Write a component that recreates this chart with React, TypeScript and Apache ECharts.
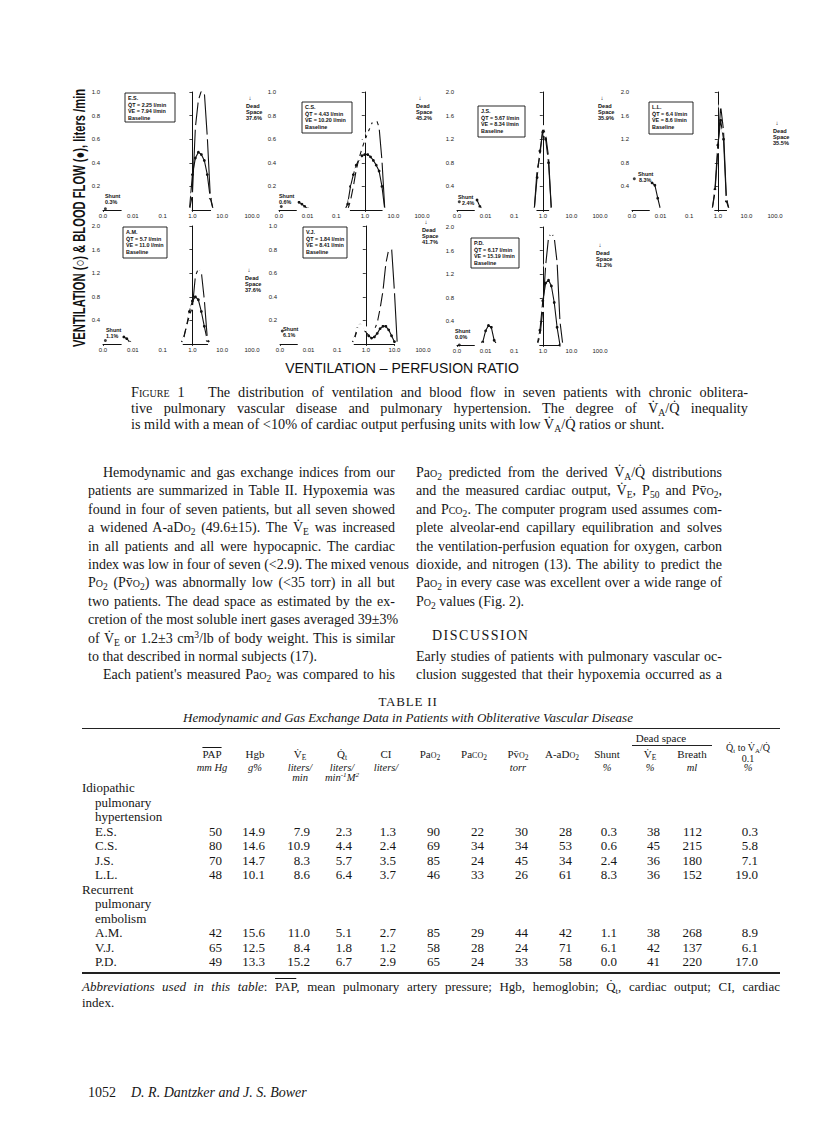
import React, { useEffect, useRef } from "react";
import * as echarts from "echarts";

// ---------------- data ----------------
// V/Q compartments, log10 scale
const VQ_LOG = [-2.3, -2.2, -2.1, -2.0, -1.9, -1.8, -1.7, -1.6, -1.5, -1.4, -1.3, -1.2, -1.1, -1.0, -0.9, -0.8, -0.7, -0.6, -0.5, -0.4, -0.3, -0.2, -0.1, 0.0, 0.1, 0.2, 0.3, 0.4, 0.5, 0.6, 0.7, 0.8, 0.9, 1.0, 1.1, 1.2, 1.3, 1.4, 1.5, 1.6, 1.7, 1.8, 1.9, 2.0];
const X_TICK_LABELS = ["0.0", "0.01", "0.1", "1.0", "10.0", "100.0"];

const PATIENTS = ["E.S.", "C.S.", "J.S.", "L.L.", "A.M.", "V.J.", "P.D."];
const QT = ["2.25", "4.43", "5.67", "6.4", "5.7", "1.84", "6.17"];
const VE = ["7.94", "10.20", "8.34", "8.6", "11.0", "8.41", "15.19"];
const DEAD_SPACE = ["37.6", "45.2", "35.9", "35.5", "37.6", "41.7", "41.2"];
const SHUNT_PCT = ["0.3", "0.6", "2.4", "8.3", "1.1", "6.1", "0.0"];
const SHUNT_FLOW = [0.01, 0.03, 0.14, 0.53, 0.06, 0.11, 0.0];
const Y_MAX = [1.0, 1.0, 2.0, 2.0, 2.0, 1.0, 2.0];
const Y_STEP = [0.2, 0.2, 0.4, 0.4, 0.4, 0.2, 0.4];

// non-zero parts of each distribution [log10 V/Q, liters/min]; every other compartment reads 0
const ES_VENT: [number, number][] = [[0.0, 0.13], [0.1, 0.7], [0.2, 0.93], [0.3, 1.01], [0.4, 1.0], [0.5, 0.62], [0.6, 0.12]];
const ES_BLOOD: [number, number][] = [[0.0, 0.3], [0.1, 0.44], [0.2, 0.49], [0.3, 0.47], [0.4, 0.42], [0.5, 0.3], [0.6, 0.1]];
const CS_VENT: [number, number][] = [[-0.5, 0.08], [-0.4, 0.2], [-0.3, 0.34], [-0.2, 0.44], [-0.1, 0.52], [0.0, 0.59], [0.1, 0.65], [0.2, 0.71], [0.3, 0.76], [0.4, 0.77], [0.5, 0.7], [0.6, 0.42]];
const CS_BLOOD: [number, number][] = [[-2.3, 0.065], [-2.2, 0.05], [-2.1, 0.03], [-2.0, 0.01], [-0.6, 0.05], [-0.5, 0.2], [-0.4, 0.3], [-0.3, 0.38], [-0.2, 0.43], [-0.1, 0.46], [0.0, 0.47], [0.1, 0.47], [0.2, 0.45], [0.3, 0.42], [0.4, 0.38], [0.5, 0.33], [0.6, 0.2]];
const JS_VENT: [number, number][] = [[-0.2, 0.68], [-0.1, 0.92], [0.0, 1.4], [0.1, 1.28], [0.2, 0.9]];
const JS_BLOOD: [number, number][] = [[-2.3, 0.17], [-2.2, 0.06], [-0.2, 0.55], [-0.1, 1.0], [0.0, 1.32], [0.1, 1.2], [0.2, 0.8]];
const LL_VENT: [number, number][] = [[-0.1, 0.3], [0.0, 1.0], [0.1, 1.76], [0.2, 1.35], [0.3, 0.2]];
const LL_BLOOD: [number, number][] = [[-2.3, 0.46], [-2.2, 0.42], [-2.1, 0.2], [-0.1, 0.35], [0.0, 1.1], [0.1, 1.52], [0.2, 1.2], [0.3, 0.15]];
const AM_VENT: [number, number][] = [[-0.3, 0.08], [-0.2, 0.3], [-0.1, 0.48], [0.0, 0.62], [0.1, 1.15], [0.2, 1.28], [0.3, 1.22], [0.4, 0.75], [0.5, 0.1]];
const AM_BLOOD: [number, number][] = [[-2.3, 0.12], [-2.2, 0.09], [-2.1, 0.03], [-0.3, 0.1], [-0.2, 0.3], [-0.1, 0.55], [0.0, 0.73], [0.1, 0.8], [0.2, 0.75], [0.3, 0.55], [0.4, 0.3], [0.5, 0.06]];
const VJ_VENT: [number, number][] = [[-0.4, 0.04], [-0.3, 0.12], [-0.2, 0.15], [-0.1, 0.15], [0.0, 0.13], [0.1, 0.11], [0.2, 0.1], [0.3, 0.12], [0.4, 0.18], [0.5, 0.3], [0.6, 0.45], [0.7, 0.68], [0.8, 0.8], [0.9, 0.82], [1.0, 0.45]];
const VJ_BLOOD: [number, number][] = [[-0.4, 0.05], [-0.3, 0.13], [-0.2, 0.16], [-0.1, 0.15], [0.0, 0.11], [0.1, 0.07], [0.2, 0.05], [0.3, 0.06], [0.4, 0.09], [0.5, 0.13], [0.6, 0.15], [0.7, 0.15], [0.8, 0.12], [0.9, 0.07], [1.0, 0.02]];
const PD_VENT: [number, number][] = [[-0.1, 0.15], [0.0, 0.6], [0.1, 1.35], [0.2, 1.82], [0.3, 1.9], [0.4, 1.82], [0.5, 1.4], [0.6, 0.4]];
const PD_BLOOD: [number, number][] = [[-2.1, 0.05], [-2.0, 0.24], [-1.9, 0.33], [-1.8, 0.3], [-1.7, 0.08], [-0.1, 0.25], [0.0, 0.75], [0.1, 1.05], [0.2, 1.1], [0.3, 1.0], [0.4, 0.72], [0.5, 0.3]];

const VENT = [ES_VENT, CS_VENT, JS_VENT, LL_VENT, AM_VENT, VJ_VENT, PD_VENT];
const BLOOD = [ES_BLOOD, CS_BLOOD, JS_BLOOD, LL_BLOOD, AM_BLOOD, VJ_BLOOD, PD_BLOOD];

// Table II
const TABLE_HEAD = [
  '<span style="text-decoration:overline">PAP</span>', "Hgb", "V̇<sub>E</sub>", "Q̇<sub>t</sub>", "CI",
  "Pa<span class=sc>o</span><sub>2</sub>", "Pa<span class=sc>co</span><sub>2</sub>", "Pv̄<span class=sc>o</span><sub>2</sub>",
  "A-aD<span class=sc>o</span><sub>2</sub>", "Shunt", "V̇<sub>E</sub>", "Breath",
];
const TABLE_UNITS = ["mm Hg", "g%", "liters/", "liters/", "liters/", "", "", "torr", "", "%", "%", "ml", "%"];
const TABLE_UNITS2 = ["", "", "min", "min<sup>-1</sup>M<sup>2</sup>", "", "", "", "", "", "", "", "", ""];
const IDIOPATHIC_ROWS = [
  ["E.S.", "50", "14.9", "7.9", "2.3", "1.3", "90", "22", "30", "28", "0.3", "38", "112", "0.3"],
  ["C.S.", "80", "14.6", "10.9", "4.4", "2.4", "69", "34", "34", "53", "0.6", "45", "215", "5.8"],
  ["J.S.", "70", "14.7", "8.3", "5.7", "3.5", "85", "24", "45", "34", "2.4", "36", "180", "7.1"],
  ["L.L.", "48", "10.1", "8.6", "6.4", "3.7", "46", "33", "26", "61", "8.3", "36", "152", "19.0"],
];
const EMBOLISM_ROWS = [
  ["A.M.", "42", "15.6", "11.0", "5.1", "2.7", "85", "29", "44", "42", "1.1", "38", "268", "8.9"],
  ["V.J.", "65", "12.5", "8.4", "1.8", "1.2", "58", "28", "24", "71", "6.1", "42", "137", "6.1"],
  ["P.D.", "49", "13.3", "15.2", "6.7", "2.9", "65", "24", "33", "58", "0.0", "41", "220", "17.0"],
];

// ---------------- text ----------------
const CAPTION = [
  '<span style="font-variant:small-caps">Figure</span> 1&nbsp;&nbsp; The distribution of ventilation and blood flow in seven patients with chronic oblitera-',
  "tive pulmonary vascular disease and pulmonary hypertension. The degree of V̇<sub>A</sub>/Q̇ inequality",
  "is mild with a mean of &lt;10% of cardiac output perfusing units with low V̇<sub>A</sub>/Q̇ ratios or shunt.",
];
// [html, justify, indent]
const LEFT_COL: [string, boolean, boolean][] = [
  ["Hemodynamic and gas exchange indices from our", true, true],
  ["patients are summarized in Table II. Hypoxemia was", true, false],
  ["found in four of seven patients, but all seven showed", true, false],
  ["a widened A-aD<span class=sc>o</span><sub>2</sub> (49.6±15). The V̇<sub>E</sub> was increased", true, false],
  ["in all patients and all were hypocapnic. The cardiac", true, false],
  ["index was low in four of seven (&lt;2.9). The mixed venous", true, false],
  ["P<span class=sc>o</span><sub>2</sub> (Pv̄<span class=sc>o</span><sub>2</sub>) was abnormally low (&lt;35 torr) in all but", true, false],
  ["two patients. The dead space as estimated by the ex-", true, false],
  ["cretion of the most soluble inert gases averaged 39±3%", true, false],
  ["of V̇<sub>E</sub> or 1.2±3 cm<sup>3</sup>/lb of body weight. This is similar", true, false],
  ["to that described in normal subjects (17).", false, false],
  ["Each patient's measured Pa<span class=sc>o</span><sub>2</sub> was compared to his", true, true],
];
const RIGHT_COL: [string, boolean, boolean][] = [
  ["Pa<span class=sc>o</span><sub>2</sub> predicted from the derived V̇<sub>A</sub>/Q̇ distributions", true, false],
  ["and the measured cardiac output, V̇<sub>E</sub>, P<sub>50</sub> and Pv̄<span class=sc>o</span><sub>2</sub>,", true, false],
  ["and P<span class=sc>co</span><sub>2</sub>. The computer program used assumes com-", true, false],
  ["plete alveolar-end capillary equilibration and solves", true, false],
  ["the ventilation-perfusion equation for oxygen, carbon", true, false],
  ["dioxide, and nitrogen (13). The ability to predict the", true, false],
  ["Pa<span class=sc>o</span><sub>2</sub> in every case was excellent over a wide range of", true, false],
  ["P<span class=sc>o</span><sub>2</sub> values (Fig. 2).", false, false],
];
const RIGHT_COL_2: [string, boolean, boolean][] = [
  ["Early studies of patients with pulmonary vascular oc-", true, false],
  ["clusion suggested that their hypoxemia occurred as a", true, false],
];

// ---------------- layout ----------------
const GRIDS = [
  { left: 103, top: 92, width: 149, height: 118 },
  { left: 279, top: 92, width: 143, height: 118 },
  { left: 457, top: 92, width: 143, height: 118 },
  { left: 632, top: 92, width: 143, height: 118 },
  { left: 103, top: 226, width: 149, height: 118 },
  { left: 280, top: 226, width: 143, height: 118 },
  { left: 457, top: 227, width: 143, height: 118 },
];
const BOXES = [[125, 93, 50, 29], [302, 102, 50, 31], [478, 106, 47, 31], [649, 102, 44, 32], [123, 227, 44, 31], [303, 227, 44, 31], [471, 238, 48, 30]];
const DEAD_POS = [[246, 106], [416, 106], [598, 106], [773, 131], [245, 278], [422, 230], [596, 253]];
const SHUNT_POS = [[105, 196, 105], [279, 196, 279], [458, 197, 462], [638, 174, 639], [106, 330, 106], [283, 329, 283], [455, 331, 455]];
const TCOL = [212, 255, 300, 342, 386, 430, 474, 518, 562, 607, 650, 692, 748];

const FIG_FONT = "'Liberation Sans', Arial, sans-serif";

function fullSeries(pts: [number, number][]) {
  return VQ_LOG.map((c) => {
    const p = pts.find((q) => Math.abs(q[0] - c) < 1e-6);
    return [c, p ? p[1] : 0];
  });
}

function buildOption() {
  const grid: any[] = [];
  const xAxis: any[] = [];
  const yAxis: any[] = [];
  const series: any[] = [];
  const graphic: any[] = [];

  GRIDS.forEach((g, i) => {
    grid.push({ ...g, containLabel: false, outerBoundsMode: "none" });
    xAxis.push({
      gridIndex: i, type: "value", min: -3, max: 2, interval: 1,
      axisLine: { show: true, onZero: false, lineStyle: { color: "#111", width: 1 } },
      axisTick: { show: true, length: 2, lineStyle: { color: "#111", width: 0.8 } },
      splitLine: { show: false },
      axisLabel: {
        fontSize: 6, color: "#222", margin: 3, fontFamily: FIG_FONT,
        formatter: (v: number) => X_TICK_LABELS[Math.round(v) + 3],
      },
    });
    yAxis.push({
      gridIndex: i, type: "value", min: 0, max: Y_MAX[i], interval: Y_STEP[i],
      axisLine: { show: true, lineStyle: { color: "#111", width: 1 } },
      axisTick: { show: true, length: 3, lineStyle: { color: "#111", width: 0.8 } },
      splitLine: { show: false },
      axisLabel: {
        fontSize: 6, color: "#222", margin: 3, fontFamily: FIG_FONT,
        formatter: (v: number) => (v === 0 ? "" : v.toFixed(1)),
      },
    });
    series.push({
      type: "line", name: "Blood flow", xAxisIndex: i, yAxisIndex: i, data: fullSeries(BLOOD[i]),
      symbol: "circle", symbolSize: 2.8, showAllSymbol: true, smooth: false, silent: true,
      lineStyle: { color: "#111", width: 1.1 }, itemStyle: { color: "#111" }, z: 3,
    });
    series.push({
      type: "line", name: "Ventilation", xAxisIndex: i, yAxisIndex: i, data: fullSeries(VENT[i]),
      symbol: "emptyCircle", symbolSize: 2.8, showAllSymbol: true, smooth: false, silent: true,
      lineStyle: { color: "#111", width: 1.1 }, itemStyle: { color: "#fff", borderColor: "#111", borderWidth: 0.7 }, z: 4,
    });
    series.push({
      type: "scatter", name: "Shunt", xAxisIndex: i, yAxisIndex: i, data: [[-2.92, SHUNT_FLOW[i]]],
      symbol: "circle", symbolSize: 3, silent: true, itemStyle: { color: "#111" }, z: 5,
    });

    const [bx, by, bw, bh] = BOXES[i];
    graphic.push({ type: "rect", shape: { x: bx, y: by, width: bw, height: bh }, style: { fill: "#fff", stroke: "#111", lineWidth: 0.9 }, z: 10 });
    graphic.push({
      type: "text", x: bx + 3, y: by + 2, z: 11,
      style: {
        text: `${PATIENTS[i]}\nQ\u0307T = ${QT[i]} l/min\nV\u0307E = ${VE[i]} l/min\nBaseline`,
        fontSize: 5.4, fontWeight: "bold", fontFamily: FIG_FONT, fill: "#111", lineHeight: 6.5, align: "left", verticalAlign: "top",
      },
    });
    const [dx, dy] = DEAD_POS[i];
    graphic.push({
      type: "text", x: dx + 4, y: dy - 8, z: 11,
      style: { text: "↓", fontSize: 6, fontFamily: FIG_FONT, fill: "#111", align: "center", verticalAlign: "middle" },
    });
    graphic.push({
      type: "text", x: dx, y: dy - 3.2, z: 11,
      style: {
        text: `Dead\nSpace\n${DEAD_SPACE[i]}%`, fontSize: 5.6, fontWeight: "bold", fontFamily: FIG_FONT, fill: "#111",
        lineHeight: 6.2, align: "left", verticalAlign: "top",
      },
    });
    const [sx, sy, px] = SHUNT_POS[i];
    graphic.push({
      type: "text", x: sx, y: sy, z: 11,
      style: { text: "Shunt", fontSize: 5.4, fontWeight: "bold", fontFamily: FIG_FONT, fill: "#111", align: "left", verticalAlign: "middle" },
    });
    graphic.push({
      type: "text", x: px, y: sy + 6, z: 11,
      style: { text: `${SHUNT_PCT[i]}%`, fontSize: 5.4, fontWeight: "bold", fontFamily: FIG_FONT, fill: "#111", align: "left", verticalAlign: "middle" },
    });
  });

  graphic.push({
    type: "text", x: 79, y: 218, rotation: Math.PI / 2, scaleX: 0.7, z: 11,
    style: {
      text: "VENTILATION (○) & BLOOD FLOW (●), liters /min",
      fontSize: 16, fontWeight: "bold", fontFamily: FIG_FONT, fill: "#111", align: "center", verticalAlign: "middle",
    },
  });
  graphic.push({
    type: "text", x: 402, y: 368, z: 11,
    style: {
      text: "VENTILATION – PERFUSION RATIO", fontSize: 14, fontFamily: FIG_FONT, fill: "#111",
      align: "center", verticalAlign: "middle",
    },
  });

  return { animation: false, backgroundColor: "transparent", grid, xAxis, yAxis, series, graphic };
}

// ---------------- html helpers ----------------
type LineProps = { x: number; y: number; w?: number; html: string; justify?: boolean; size?: number; italic?: boolean; align?: string; ls?: number };
function Line({ x, y, w, html, justify, size = 14, italic, align, ls }: LineProps) {
  const lh = 16;
  const style: any = {
    position: "absolute", left: x, top: y - lh / 2, height: lh, lineHeight: lh + "px",
    fontSize: size, whiteSpace: "nowrap", color: "#161616", fontStyle: italic ? "italic" : "normal",
  };
  if (w !== undefined) style.width = w;
  if (justify) { style.textAlign = "justify"; style.textAlignLast = "justify"; }
  else if (align) style.textAlign = align;
  if (ls) style.letterSpacing = ls;
  return <div style={style} dangerouslySetInnerHTML={{ __html: html }} />;
}

export default function App() {
  const ref = useRef<HTMLDivElement>(null);
  useEffect(() => {
    if (!ref.current) return;
    const chart = echarts.init(ref.current, undefined, { renderer: "svg" });
    chart.setOption(buildOption() as any);
    return () => chart.dispose();
  }, []);

  const bodyY0 = 473;
  const bodyDy = 18.4;
  const els: React.ReactNode[] = [];

  CAPTION.forEach((h, i) =>
    els.push(<Line key={"cap" + i} x={131} y={392 + i * 16} w={617} html={h} justify={i < 2} size={14.3} />)
  );
  LEFT_COL.forEach(([h, j, ind], i) =>
    els.push(<Line key={"l" + i} x={ind ? 103 : 88} y={bodyY0 + i * bodyDy} w={ind ? 292 : 307} html={h} justify={j} />)
  );
  RIGHT_COL.forEach(([h, j, ind], i) =>
    els.push(<Line key={"r" + i} x={416} y={bodyY0 + i * bodyDy} w={306} html={h} justify={j} />)
  );
  els.push(<Line key="disc" x={432} y={bodyY0 + 9 * bodyDy - 3} html="DISCUSSION" size={14} ls={1.5} />);
  RIGHT_COL_2.forEach(([h, j], i) =>
    els.push(<Line key={"r2" + i} x={416} y={bodyY0 + (10 + i) * bodyDy} w={306} html={h} justify={j} />)
  );

  // Table
  const tTop = 702;
  els.push(<Line key="tt" x={0} w={816} y={tTop} html="TABLE II" align="center" size={13} ls={0.8} />);
  els.push(<Line key="ts" x={0} w={816} y={tTop + 16} html="Hemodynamic and Gas Exchange Data in Patients with Obliterative Vascular Disease" align="center" size={13} italic />);
  const rule = (key: string, y: number, x1: number, x2: number, h: number) => (
    <div key={key} style={{ position: "absolute", left: x1, top: y, width: x2 - x1, height: h, background: "#222" }} />
  );
  els.push(rule("ru1", tTop + 26, 82, 780, 1));
  els.push(<Line key="ds" x={TCOL[10] - 30} w={82} y={tTop + 36} html="Dead space" align="center" size={11} />);
  els.push(rule("ru2", tTop + 43, TCOL[10] - 18, TCOL[11] + 20, 0.8));
  TABLE_HEAD.forEach((h, i) =>
    els.push(<Line key={"th" + i} x={TCOL[i] - 30} w={60} y={tTop + 52} html={h} align="center" size={11} />)
  );
  els.push(<Line key="thq" x={TCOL[12] - 30} w={60} y={tTop + 46} html="Q̇<sub>t</sub> to V̇<sub>A</sub>/Q̇" align="center" size={10} />);
  els.push(<Line key="thq2" x={TCOL[12] - 30} w={60} y={tTop + 57} html="0.1" align="center" size={10} />);
  TABLE_UNITS.forEach((h, i) => {
    if (h) els.push(<Line key={"tu" + i} x={TCOL[i] - 30} w={60} y={tTop + 66} html={h} align="center" size={10.5} italic />);
  });
  TABLE_UNITS2.forEach((h, i) => {
    if (h) els.push(<Line key={"tv" + i} x={TCOL[i] - 30} w={60} y={tTop + 76} html={h} align="center" size={10.5} italic />);
  });

  const rowY0 = 788;
  const rowDy = 14.5;
  let r = 0;
  const labelRow = (txt: string, indent: boolean) => {
    els.push(<Line key={"lab" + r} x={indent ? 95 : 82} y={rowY0 + r * rowDy} html={txt} size={13} />);
    r++;
  };
  const dataRow = (row: string[]) => {
    els.push(<Line key={"id" + r} x={95} y={rowY0 + r * rowDy} html={row[0]} size={13} />);
    row.slice(1).forEach((v, k) =>
      els.push(<Line key={"d" + r + "_" + k} x={TCOL[k] - 40} w={50} y={rowY0 + r * rowDy} html={v} align="right" size={13} />)
    );
    r++;
  };
  labelRow("Idiopathic", false);
  labelRow("pulmonary", true);
  labelRow("hypertension", true);
  IDIOPATHIC_ROWS.forEach(dataRow);
  labelRow("Recurrent", false);
  labelRow("pulmonary", true);
  labelRow("embolism", true);
  EMBOLISM_ROWS.forEach(dataRow);
  const bottomY = rowY0 + (r - 1) * rowDy + 10;
  els.push(rule("ru3", bottomY, 82, 780, 1.6));
  els.push(
    <Line key="ab1" x={82} w={698} y={bottomY + 15} size={13} justify
      html={'<i>Abbreviations used in this table</i>: <span style="text-decoration:overline">PAP</span>, mean pulmonary artery pressure; Hgb, hemoglobin; Q̇<sub>t</sub>, cardiac output; CI, cardiac'} />
  );
  els.push(<Line key="ab2" x={82} y={bottomY + 31} size={13} html="index." />);

  els.push(<Line key="f1" x={88} y={1093} size={14} html="1052" />);
  els.push(<Line key="f2" x={131} y={1093} size={14} italic html="D. R. Dantzker and J. S. Bower" />);

  return (
    <div style={{ position: "absolute", left: 0, top: 0, width: 816, height: 1127, background: "#fff", overflow: "hidden", fontFamily: "'Liberation Serif', 'Times New Roman', serif" }}>
      <style>{`sub{font-size:68%;vertical-align:-0.3em;line-height:0} sup{font-size:68%;vertical-align:0.5em;line-height:0} .sc{font-variant:small-caps}`}</style>
      <div ref={ref} style={{ position: "absolute", left: 0, top: 0, width: 816, height: 440 }} />
      {els}
    </div>
  );
}
